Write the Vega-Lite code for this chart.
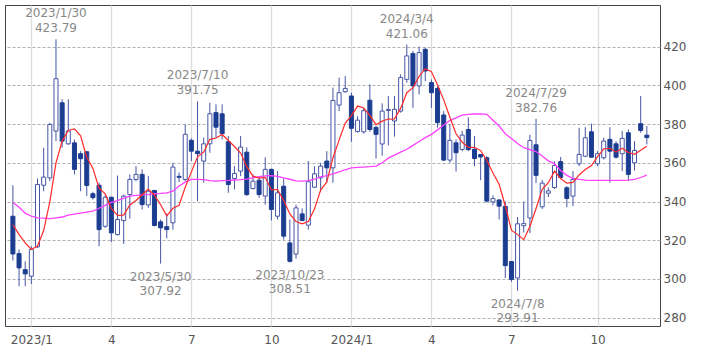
{
"$schema": "https://vega.github.io/schema/vega-lite/v6.json",
"width": 655, "height": 321,
"autosize": {"type": "none"},
"padding": {"left": 5, "top": 5, "right": 49, "bottom": 28},
"background": "white",
"config": {"view": {"stroke": "#444", "strokeWidth": 1}, "font": "DejaVu Sans"},
"datasets": {
"candles": [
{"d":"2022-12-12","o":332.4,"h":348.4,"l":309.5,"c":312.9,"m5":328,"m26":339.5},
{"d":"2022-12-19","o":313.1,"h":315.2,"l":296.2,"c":305.7,"m5":323,"m26":337},
{"d":"2022-12-26","o":304.8,"h":309.1,"l":296.2,"c":302.6,"m5":318.6,"m26":334},
{"d":"2023-01-02","o":301.4,"h":316.9,"l":297.4,"c":315.2,"m5":315.2,"m26":332.4},
{"d":"2023-01-09","o":316.6,"h":351.9,"l":316.0,"c":348.8,"m5":317.0,"m26":331.6},
{"d":"2023-01-16","o":348.4,"h":367.8,"l":345.3,"c":352.6,"m5":325.0,"m26":331.4},
{"d":"2023-01-23","o":352.2,"h":380.7,"l":350.5,"c":379.8,"m5":339.8,"m26":331.2},
{"d":"2023-01-30","o":376.4,"h":423.79,"l":371.2,"c":403.4,"m5":360.0,"m26":331.5},
{"d":"2023-02-06","o":391.0,"h":392.8,"l":367.8,"c":371.2,"m5":371.2,"m26":332},
{"d":"2023-02-13","o":369.8,"h":392.8,"l":369.3,"c":376.4,"m5":376.7,"m26":333},
{"d":"2023-02-20","o":370.3,"h":372.0,"l":354.0,"c":356.6,"m5":377.5,"m26":333.5},
{"d":"2023-02-27","o":364.7,"h":366.0,"l":345.3,"c":362.1,"m5":373.9,"m26":334},
{"d":"2023-03-06","o":365.7,"h":366.0,"l":342.8,"c":348.3,"m5":362.9,"m26":334.5},
{"d":"2023-03-13","o":344.0,"h":345.0,"l":341.0,"c":342.0,"m5":357.1,"m26":335},
{"d":"2023-03-20","o":348.4,"h":349.7,"l":316.9,"c":325.5,"m5":346.9,"m26":336.5},
{"d":"2023-03-27","o":327.2,"h":343.6,"l":326.4,"c":342.2,"m5":344.0,"m26":338},
{"d":"2023-04-03","o":342.2,"h":342.5,"l":319.1,"c":323.8,"m5":336.4,"m26":339.5},
{"d":"2023-04-10","o":322.9,"h":353.4,"l":322.5,"c":330.7,"m5":332.8,"m26":340.5},
{"d":"2023-04-17","o":330.2,"h":343.6,"l":318.1,"c":342.8,"m5":333.0,"m26":341.8},
{"d":"2023-04-24","o":343.6,"h":354.0,"l":331.2,"c":351.4,"m5":338.2,"m26":342.8},
{"d":"2023-05-01","o":351.4,"h":358.3,"l":350.5,"c":354.0,"m5":340.5,"m26":343.2},
{"d":"2023-05-08","o":354.0,"h":356.6,"l":335.9,"c":338.4,"m5":343.5,"m26":343.4},
{"d":"2023-05-15","o":338.2,"h":353.1,"l":336.7,"c":345.3,"m5":346.4,"m26":343.6},
{"d":"2023-05-22","o":345.7,"h":346.0,"l":327.2,"c":327.6,"m5":343.3,"m26":344},
{"d":"2023-05-29","o":329.5,"h":330.7,"l":307.92,"c":326.4,"m5":338.3,"m26":344.2},
{"d":"2023-06-05","o":327.0,"h":333.9,"l":321.0,"c":325.5,"m5":332.6,"m26":344.5},
{"d":"2023-06-12","o":329.0,"h":360.0,"l":325.5,"c":357.8,"m5":336.5,"m26":345.3},
{"d":"2023-06-19","o":353.0,"h":355.0,"l":350.0,"c":352.5,"m5":338.0,"m26":348},
{"d":"2023-06-26","o":351.4,"h":379.8,"l":350.5,"c":374.7,"m5":347.4,"m26":350},
{"d":"2023-07-03","o":371.6,"h":372.6,"l":360.9,"c":366.0,"m5":355.3,"m26":351.4},
{"d":"2023-07-10","o":366.0,"h":391.75,"l":340.2,"c":364.7,"m5":363.1,"m26":351.4},
{"d":"2023-07-17","o":360.9,"h":373.0,"l":349.7,"c":369.8,"m5":365.5,"m26":351.3},
{"d":"2023-07-24","o":369.8,"h":391.0,"l":365.2,"c":385.3,"m5":372.1,"m26":350.8},
{"d":"2023-07-31","o":385.9,"h":390.2,"l":372.9,"c":378.4,"m5":372.8,"m26":350.5},
{"d":"2023-08-07","o":385.3,"h":390.2,"l":372.1,"c":375.0,"m5":374.6,"m26":350.8},
{"d":"2023-08-14","o":370.9,"h":373.8,"l":344.5,"c":348.8,"m5":371.5,"m26":350.9},
{"d":"2023-08-21","o":351.9,"h":358.3,"l":346.2,"c":354.5,"m5":368.4,"m26":351.1},
{"d":"2023-08-28","o":355.7,"h":373.8,"l":353.1,"c":368.1,"m5":365.0,"m26":351.3},
{"d":"2023-09-04","o":365.5,"h":368.0,"l":342.8,"c":343.6,"m5":358.0,"m26":351.6},
{"d":"2023-09-11","o":346.7,"h":354.0,"l":346.2,"c":350.5,"m5":353.1,"m26":352.2},
{"d":"2023-09-18","o":351.0,"h":353.0,"l":341.9,"c":343.6,"m5":352.1,"m26":352.8},
{"d":"2023-09-25","o":342.8,"h":362.9,"l":338.4,"c":356.6,"m5":352.5,"m26":353.2},
{"d":"2023-10-02","o":356.6,"h":357.0,"l":330.2,"c":335.9,"m5":346.0,"m26":353.4},
{"d":"2023-10-09","o":332.4,"h":355.7,"l":330.7,"c":344.5,"m5":346.2,"m26":353},
{"d":"2023-10-16","o":347.9,"h":352.0,"l":320.3,"c":322.1,"m5":340.5,"m26":352.2},
{"d":"2023-10-23","o":318.6,"h":330.7,"l":308.51,"c":309.1,"m5":333.6,"m26":351.5},
{"d":"2023-10-30","o":312.9,"h":338.4,"l":310.5,"c":336.7,"m5":329.7,"m26":350.7},
{"d":"2023-11-06","o":333.6,"h":336.4,"l":329.8,"c":330.2,"m5":328.5,"m26":350.5},
{"d":"2023-11-13","o":327.8,"h":360.9,"l":325.5,"c":350.2,"m5":329.7,"m26":350.8},
{"d":"2023-11-20","o":347.4,"h":358.3,"l":347.1,"c":354.3,"m5":336.1,"m26":351.5},
{"d":"2023-11-27","o":352.2,"h":360.0,"l":345.0,"c":358.3,"m5":345.9,"m26":352.7},
{"d":"2023-12-04","o":360.9,"h":366.0,"l":349.7,"c":357.4,"m5":350.1,"m26":353.4},
{"d":"2023-12-11","o":357.4,"h":398.8,"l":349.7,"c":392.2,"m5":362.5,"m26":354.3},
{"d":"2023-12-18","o":389.8,"h":404.0,"l":386.7,"c":396.2,"m5":371.7,"m26":355.3},
{"d":"2023-12-25","o":396.7,"h":404.8,"l":396.2,"c":398.4,"m5":380.5,"m26":356.4},
{"d":"2024-01-01","o":394.5,"h":396.2,"l":370.9,"c":377.8,"m5":384.4,"m26":357.4},
{"d":"2024-01-08","o":376.2,"h":384.0,"l":375.5,"c":382.0,"m5":389.3,"m26":357.6},
{"d":"2024-01-15","o":376.0,"h":388.4,"l":375.0,"c":386.9,"m5":388.3,"m26":357.8},
{"d":"2024-01-22","o":392.3,"h":400.5,"l":376.0,"c":377.2,"m5":384.5,"m26":358},
{"d":"2024-01-29","o":378.3,"h":379.0,"l":362.2,"c":374.7,"m5":379.7,"m26":358.3},
{"d":"2024-02-05","o":369.7,"h":390.7,"l":363.6,"c":386.7,"m5":381.5,"m26":360},
{"d":"2024-02-12","o":387.0,"h":394.5,"l":369.0,"c":387.5,"m5":382.6,"m26":362.4},
{"d":"2024-02-19","o":381.6,"h":394.5,"l":373.5,"c":387.6,"m5":382.7,"m26":364},
{"d":"2024-02-26","o":386.7,"h":405.7,"l":385.9,"c":404.0,"m5":388.1,"m26":365.5},
{"d":"2024-03-04","o":403.1,"h":421.06,"l":401.4,"c":415.2,"m5":396.2,"m26":367},
{"d":"2024-03-11","o":416.4,"h":417.8,"l":388.4,"c":399.7,"m5":398.8,"m26":369},
{"d":"2024-03-18","o":399.7,"h":420.0,"l":395.3,"c":416.9,"m5":404.7,"m26":371},
{"d":"2024-03-25","o":418.6,"h":419.5,"l":402.2,"c":407.4,"m5":408.6,"m26":373},
{"d":"2024-04-01","o":401.4,"h":403.1,"l":388.4,"c":396.2,"m5":407.1,"m26":374.7},
{"d":"2024-04-08","o":398.4,"h":399.7,"l":378.1,"c":380.7,"m5":400.2,"m26":377},
{"d":"2024-04-15","o":384.7,"h":386.7,"l":360.9,"c":361.4,"m5":392.5,"m26":379.5},
{"d":"2024-04-22","o":361.4,"h":380.0,"l":360.0,"c":371.6,"m5":383.5,"m26":381.8},
{"d":"2024-04-29","o":370.3,"h":372.1,"l":355.5,"c":365.2,"m5":375.0,"m26":383.2},
{"d":"2024-05-06","o":366.9,"h":376.4,"l":366.0,"c":374.3,"m5":370.6,"m26":384.6},
{"d":"2024-05-13","o":377.2,"h":383.5,"l":366.0,"c":366.8,"m5":367.9,"m26":385},
{"d":"2024-05-20","o":367.0,"h":373.8,"l":358.3,"c":362.2,"m5":368.0,"m26":385.2},
{"d":"2024-05-27","o":364.3,"h":364.5,"l":351.0,"c":363.0,"m5":366.3,"m26":385.3},
{"d":"2024-06-03","o":362.6,"h":363.4,"l":339.5,"c":340.2,"m5":361.3,"m26":385},
{"d":"2024-06-10","o":339.8,"h":343.2,"l":338.0,"c":341.5,"m5":354.7,"m26":382},
{"d":"2024-06-17","o":340.8,"h":341.1,"l":330.7,"c":337.6,"m5":348.9,"m26":379},
{"d":"2024-06-24","o":337.5,"h":340.0,"l":300.5,"c":306.9,"m5":337.8,"m26":375},
{"d":"2024-07-01","o":309.0,"h":309.1,"l":298.5,"c":299.8,"m5":325.2,"m26":372.5},
{"d":"2024-07-08","o":300.5,"h":332.0,"l":293.91,"c":328.5,"m5":322.9,"m26":370},
{"d":"2024-07-15","o":327.5,"h":340.0,"l":324.0,"c":328.6,"m5":320.3,"m26":367.8},
{"d":"2024-07-22","o":331.5,"h":374.4,"l":323.7,"c":371.5,"m5":327.1,"m26":366.8},
{"d":"2024-07-29","o":369.3,"h":382.76,"l":349.5,"c":353.5,"m5":336.4,"m26":365.8},
{"d":"2024-08-05","o":337.3,"h":351.2,"l":336.1,"c":349.5,"m5":346.3,"m26":363.5},
{"d":"2024-08-12","o":344.3,"h":347.2,"l":342.3,"c":345.5,"m5":349.7,"m26":361},
{"d":"2024-08-19","o":347.2,"h":360.8,"l":346.5,"c":358.6,"m5":355.7,"m26":359.5},
{"d":"2024-08-26","o":360.6,"h":363.0,"l":351.8,"c":352.4,"m5":351.9,"m26":356},
{"d":"2024-09-02","o":347.1,"h":347.9,"l":337.1,"c":341.6,"m5":349.5,"m26":353.5},
{"d":"2024-09-09","o":342.8,"h":355.7,"l":337.6,"c":351.4,"m5":349.9,"m26":352},
{"d":"2024-09-16","o":359.5,"h":378.1,"l":358.3,"c":364.3,"m5":353.7,"m26":351.4},
{"d":"2024-09-23","o":363.4,"h":378.4,"l":362.9,"c":372.9,"m5":356.5,"m26":351},
{"d":"2024-09-30","o":376.0,"h":380.2,"l":362.6,"c":362.9,"m5":358.6,"m26":350.9},
{"d":"2024-10-07","o":359.5,"h":366.0,"l":358.3,"c":364.7,"m5":363.2,"m26":350.9},
{"d":"2024-10-14","o":362.6,"h":372.9,"l":361.7,"c":371.2,"m5":367.2,"m26":350.9},
{"d":"2024-10-21","o":372.1,"h":378.4,"l":349.7,"c":366.0,"m5":367.5,"m26":350.9},
{"d":"2024-10-28","o":369.8,"h":371.2,"l":362.2,"c":362.9,"m5":365.5,"m26":350.9},
{"d":"2024-11-04","o":364.7,"h":376.4,"l":355.7,"c":372.6,"m5":367.5,"m26":350.9},
{"d":"2024-11-11","o":375.5,"h":377.2,"l":350.5,"c":354.0,"m5":365.3,"m26":351},
{"d":"2024-11-18","o":360.0,"h":371.2,"l":356.0,"c":366.4,"m5":364.4,"m26":351.4},
{"d":"2024-11-25","o":380.2,"h":394.5,"l":375.5,"c":376.7,"m5":366.5,"m26":352.4},
{"d":"2024-12-02","o":374.3,"h":379.0,"l":369.5,"c":373.0,"m5":368.5,"m26":353.6}
],
"notes": [
{"d":"2023-01-30","p":423.79,"label":"2023/1/30","kind":"high"},
{"d":"2023-07-10","p":391.75,"label":"2023/7/10","kind":"high"},
{"d":"2024-03-04","p":421.06,"label":"2024/3/4","kind":"high"},
{"d":"2024-07-29","p":382.76,"label":"2024/7/29","kind":"high"},
{"d":"2023-05-29","p":307.92,"label":"2023/5/30","kind":"low"},
{"d":"2023-10-23","p":308.51,"label":"2023/10/23","kind":"low"},
{"d":"2024-07-08","p":293.91,"label":"2024/7/8","kind":"low"}
]
},
"encoding": {
"x": {"field": "d", "type": "temporal",
"scale": {"type": "utc", "domain": [{"year":2022,"month":12,"date":8,"hours":17,"utc":true},{"year":2024,"month":12,"date":11,"hours":7,"utc":true}]},
"axis": {"title": null, "orient": "bottom",
"values": [{"year":2023,"month":1,"date":2,"utc":true},{"year":2023,"month":4,"date":3,"utc":true},{"year":2023,"month":7,"date":3,"utc":true},{"year":2023,"month":10,"date":2,"utc":true},{"year":2024,"month":1,"date":1,"utc":true},{"year":2024,"month":4,"date":1,"utc":true},{"year":2024,"month":7,"date":1,"utc":true},{"year":2024,"month":10,"date":7,"utc":true}],
"labelExpr": "utcmonth(datum.value) == 0 ? utcyear(datum.value) + '/1' : '' + (utcmonth(datum.value) + 1)",
"grid": true, "gridColor": "#dddddd", "gridWidth": 1.3, "domain": false, "ticks": false,
"labelPadding": 8, "labelFlush": false, "labelFontSize": 12, "labelColor": "#555555", "labelFont": "DejaVu Sans"}}
},
"layer": [
{"data": {"name": "candles"}, "mark": {"type": "rule", "color": "#4656a6", "strokeWidth": 1},
 "encoding": {"y": {"field": "l", "type": "quantitative",
   "scale": {"domain": [275.7, 441.5], "nice": false, "zero": false},
   "axis": {"title": null, "orient": "right", "values": [280,300,320,340,360,380,400,420],
     "grid": true, "gridDash": [3,2], "gridColor": "#b0b0b0", "domain": false, "ticks": false,
     "labelPadding": 3, "labelFontSize": 12, "labelColor": "#555555", "labelFont": "DejaVu Sans"}},
   "y2": {"field": "h"}}},
{"data": {"name": "candles"}, "mark": {"type": "bar", "width": 4, "strokeWidth": 1},
 "encoding": {"y": {"field": "o", "type": "quantitative"}, "y2": {"field": "c"},
   "fill": {"condition": {"test": "datum.c > datum.o", "value": "white"}, "value": "#1b3d91"},
   "stroke": {"condition": {"test": "datum.c > datum.o", "value": "#4656a6"}, "value": "#1b3d91"}}},
{"data": {"name": "candles"}, "mark": {"type": "line", "color": "#ff40ff", "strokeWidth": 1.3},
 "encoding": {"y": {"field": "m26", "type": "quantitative"}}},
{"data": {"name": "candles"}, "mark": {"type": "line", "color": "#ff2a2a", "strokeWidth": 1.2},
 "encoding": {"y": {"field": "m5", "type": "quantitative"}}},
{"data": {"name": "notes"}, "transform": [{"filter": "datum.kind == 'high'"}],
 "mark": {"type": "text", "dy": -26, "fontSize": 12, "color": "#888888", "font": "DejaVu Sans", "baseline": "middle"},
 "encoding": {"y": {"field": "p", "type": "quantitative"}, "text": {"field": "label"}}},
{"data": {"name": "notes"}, "transform": [{"filter": "datum.kind == 'high'"}],
 "mark": {"type": "text", "dy": -11, "fontSize": 12, "color": "#888888", "font": "DejaVu Sans", "baseline": "middle"},
 "encoding": {"y": {"field": "p", "type": "quantitative"}, "text": {"field": "p", "type": "quantitative", "format": ".2f"}}},
{"data": {"name": "notes"}, "transform": [{"filter": "datum.kind == 'low'"}],
 "mark": {"type": "text", "dy": 13, "fontSize": 12, "color": "#888888", "font": "DejaVu Sans", "baseline": "middle"},
 "encoding": {"y": {"field": "p", "type": "quantitative"}, "text": {"field": "label"}}},
{"data": {"name": "notes"}, "transform": [{"filter": "datum.kind == 'low'"}],
 "mark": {"type": "text", "dy": 27, "fontSize": 12, "color": "#888888", "font": "DejaVu Sans", "baseline": "middle"},
 "encoding": {"y": {"field": "p", "type": "quantitative"}, "text": {"field": "p", "type": "quantitative", "format": ".2f"}}}
]
}
